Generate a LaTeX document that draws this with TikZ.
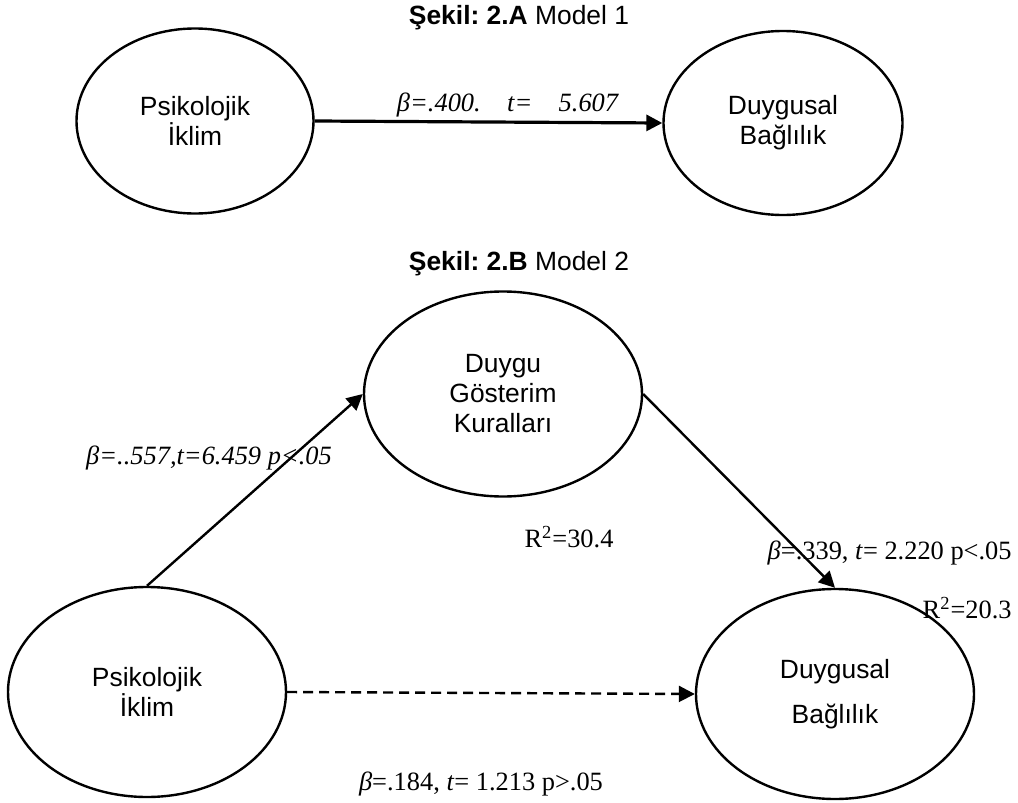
\documentclass[tikz,border=0pt]{standalone}
\usepackage{fontspec}
\setmainfont{Liberation Sans}
\newfontfamily\tnr{Liberation Serif}
\usetikzlibrary{shapes.geometric,arrows.meta}
\frenchspacing

\begin{document}
\begin{tikzpicture}[x=0.5pt,y=-0.5pt,
		var/.style={draw, ellipse, line width=1.2pt, inner sep=0pt, align=center, font=\fontsize{13.2}{15}\selectfont},
		lbl/.style={font=\tnr\fontsize{13.2}{15}\selectfont, inner sep=1pt},
		ttl/.style={font=\fontsize{13.2}{15}\selectfont},
		conn/.style={line width=1.2pt, -{Triangle[length=8pt,width=8pt]}}]

				\useasboundingbox (0,0) rectangle (1018,803);

				\node [ttl] (T0) at (519,18) {\textbf{Şekil: 2.A} Model 1};

				\node [var, minimum width=118.5pt, minimum height=92.5pt] (P0) at (195,121) {Psikolojik\\İklim};
				\node [var, minimum width=119.5pt, minimum height=92pt] (D0) at (783,123) {Duygusal\\Bağlılık};

				\node [lbl] (L0) at (508,105) {\textit{β=.400.\quad t=\quad 5.607}};

				\draw [conn, line width=1.6pt] (P0.east) -- (D0.west);


				\node [ttl] (T1) at (519,264) {\textbf{Şekil: 2.B} Model 2};

				\node [var, minimum width=139pt, minimum height=102.5pt] (K1) at (503,394) {Duygu\\Gösterim\\Kuralları};
				\node [var, minimum width=139pt, minimum height=105pt] (P1) at (147,692) {Psikolojik\\İklim};
				\node [var, minimum width=139pt, minimum height=105pt] (D1) at (835,694) {Duygusal\\[7.5pt]Bağlılık};

				\node [lbl] (L1) at (209,458) {\textit{β=..557,t=6.459 p<.05}};
				\node [lbl] (L2) at (569,537) {R\textsuperscript{2}=30.4};
				\node [lbl, anchor=east] (L3) at (1014,553) {\textit{β}=.339, \textit{t}= 2.220 p<.05};
				\node [lbl, anchor=east] (L4) at (1014,608) {R\textsuperscript{2}=20.3};
				\node [lbl] (L5) at (481,784) {\textit{β}=.184, \textit{t}= 1.213 p>.05};

				\draw [conn] (P1.north) -- (K1.west);
				\draw [conn] (K1.east) -- (D1.north);
				\draw [conn, dash pattern=on 5pt off 3pt] (P1.east) -- (D1.west);
		\end{tikzpicture}
\end{document}
